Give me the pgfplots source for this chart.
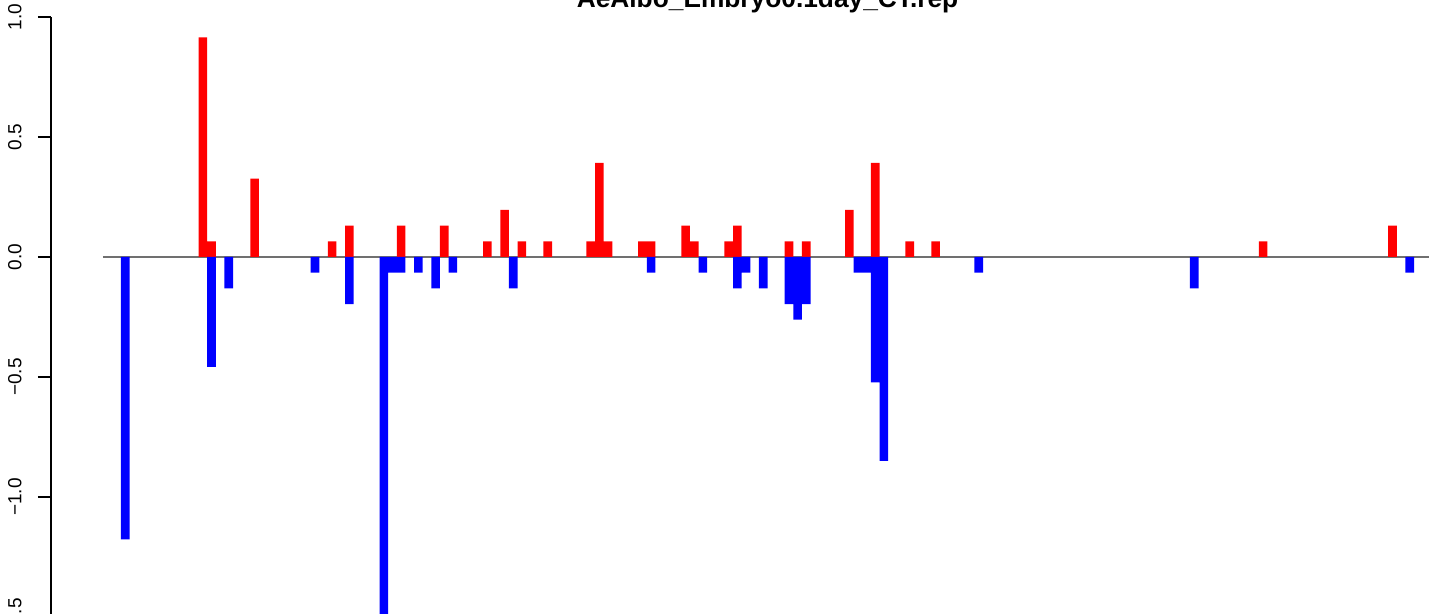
\documentclass[border=0pt]{standalone}
\usepackage{pgfplots}
\pgfplotsset{compat=1.18}
\usepackage{pgfplotstable}
\usepackage{fontspec}
\setmainfont{Liberation Sans}
\definecolor{zeroline}{RGB}{112,112,112}
\pgfplotstableread{
x y
9 0.9150
10 0.0654
15 0.3268
24 0.0654
26 0.1307
32 0.1307
37 0.1307
42 0.0654
44 0.1961
46 0.0654
49 0.0654
54 0.0654
55 0.3922
56 0.0654
60 0.0654
61 0.0654
65 0.1307
66 0.0654
70 0.0654
71 0.1307
77 0.0654
79 0.0654
84 0.1961
87 0.3922
91 0.0654
94 0.0654
132 0.0654
147 0.1307
}\reddata
\pgfplotstableread{
x y
0 -1.1765
10 -0.4575
12 -0.1307
22 -0.0654
26 -0.1961
30 -1.5686
31 -0.0654
32 -0.0654
34 -0.0654
36 -0.1307
38 -0.0654
45 -0.1307
61 -0.0654
67 -0.0654
71 -0.1307
72 -0.0654
74 -0.1307
77 -0.1961
78 -0.2614
79 -0.1961
85 -0.0654
86 -0.0654
87 -0.5229
88 -0.8497
99 -0.0654
124 -0.1307
149 -0.0654
}\bluedata
\begin{document}
\begin{tikzpicture}
\begin{axis}[
  scale only axis, width=689pt, height=300pt,
  xmin=-8.62, xmax=151.24, ymin=-1.5, ymax=1.0,
  axis x line=none, axis y line*=left,
  xtick=\empty,
  ytick={-1.5,-1,-0.5,0,0.5,1},
  yticklabels={−1.5,−1.0,−0.5,0.0,0.5,1.0},
  ytick align=outside, ytick pos=left,
  major tick length=6.5pt,
  axis line style={line width=0.8pt, black},
  every tick/.style={line width=0.8pt, black},
  yticklabel shift=8pt,
  yticklabel style={rotate=90, anchor=south, inner sep=0pt, font=\fontsize{9.5}{11}\selectfont},
  clip=true,
  title={AeAlbo\_Embryo0.1day\_CT.rep},
  title style={at={(rel axis cs:0.52,1)}, anchor=south, yshift=-4pt, inner sep=0pt, font=\bfseries\fontsize{13.15}{15}\selectfont},
]
\addplot[color=zeroline, line width=0.9pt] coordinates {(-2.59,0) (151.3,0)};
\addplot[ybar, bar width=1, bar shift=0pt, fill=red, draw=none] table[x=x,y=y] {\reddata};
\addplot[ybar, bar width=1, bar shift=0pt, fill=blue, draw=none] table[x=x,y=y] {\bluedata};
\coordinate (SW) at (rel axis cs:0,0);
\end{axis}
\pgfresetboundingbox
\path[use as bounding box] ([shift={(-25.5pt,1.5pt)}]SW) rectangle ([shift={(689pt,308.5pt)}]SW);
\end{tikzpicture}
\end{document}
